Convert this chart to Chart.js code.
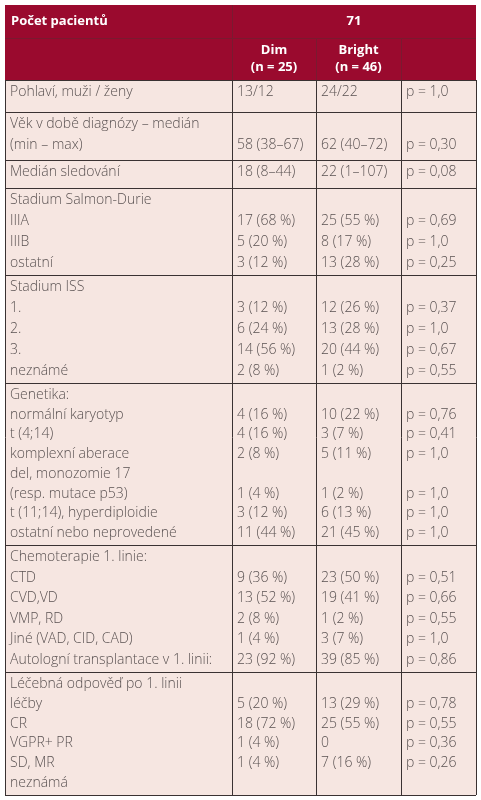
<!DOCTYPE html>
<html lang="cs">
<head>
  <meta charset="UTF-8" />
  <title>Počet pacientů</title>
  <script src="https://cdn.jsdelivr.net/npm/chart.js"></script>
  <style>
    body { margin: 0; background: #fff; }
    canvas { display: block; }
  </style>
</head>
<body>
  <canvas id="tabulka" width="481" height="800"></canvas>
  <script>
    // data z tabulky
    const headerTitle = 'Počet pacientů';
    const headerTotal = '71';
    const columnHeads = [['Dim', '(n = 25)'], ['Bright', '(n = 46)']];

    const categories = [
      ['Pohlaví, muži / ženy'],
      ['Věk v době diagnózy – medián', '(min – max)'],
      ['Medián sledování'],
      ['Stadium Salmon-Durie', 'IIIA', 'IIIB', 'ostatní'],
      ['Stadium ISS', '1.', '2.', '3.', 'neznámé'],
      ['Genetika:', 'normální karyotyp', 't (4;14)', 'komplexní aberace', 'del, monozomie 17', '(resp. mutace p53)', 't (11;14), hyperdiploidie', 'ostatní nebo neprovedené'],
      ['Chemoterapie 1. linie:', 'CTD', 'CVD,VD', 'VMP, RD', 'Jiné (VAD, CID, CAD)', 'Autologní transplantace v 1. linii:'],
      ['Léčebná odpověď po 1. linii', 'léčby', 'CR', 'VGPR+ PR', 'SD, MR', 'neznámá']
    ];
    const dimValues = [
      ['13/12'],
      ['', '58 (38–67)'],
      ['18 (8–44)'],
      ['', '17 (68 %)', '5 (20 %)', '3 (12 %)'],
      ['', '3 (12 %)', '6 (24 %)', '14 (56 %)', '2 (8 %)'],
      ['', '4 (16 %)', '4 (16 %)', '2 (8 %)', '', '1 (4 %)', '3 (12 %)', '11 (44 %)'],
      ['', '9 (36 %)', '13 (52 %)', '2 (8 %)', '1 (4 %)', '23 (92 %)'],
      ['', '5 (20 %)', '18 (72 %)', '1 (4 %)', '1 (4 %)', '']
    ];
    const brightValues = [
      ['24/22'],
      ['', '62 (40–72)'],
      ['22 (1–107)'],
      ['', '25 (55 %)', '8 (17 %)', '13 (28 %)'],
      ['', '12 (26 %)', '13 (28 %)', '20 (44 %)', '1 (2 %)'],
      ['', '10 (22 %)', '3 (7 %)', '5 (11 %)', '', '1 (2 %)', '6 (13 %)', '21 (45 %)'],
      ['', '23 (50 %)', '19 (41 %)', '1 (2 %)', '3 (7 %)', '39 (85 %)'],
      ['', '13 (29 %)', '25 (55 %)', '0', '7 (16 %)', '']
    ];
    const pValues = [
      ['p = 1,0'],
      ['', 'p = 0,30'],
      ['p = 0,08'],
      ['', 'p = 0,69', 'p = 1,0', 'p = 0,25'],
      ['', 'p = 0,37', 'p = 1,0', 'p = 0,67', 'p = 0,55'],
      ['', 'p = 0,76', 'p = 0,41', 'p = 1,0', '', 'p = 1,0', 'p = 1,0', 'p = 1,0'],
      ['', 'p = 0,51', 'p = 0,66', 'p = 0,55', 'p = 1,0', 'p = 0,86'],
      ['', 'p = 0,78', 'p = 0,55', 'p = 0,36', 'p = 0,26', '']
    ];

    // rozvržení (v jednotkách os)
    const colEdges = [5, 232, 316, 401, 476];
    const headEdges = [5, 38, 80];
    const rowEdges = [80, 112, 160, 188, 275, 383, 545, 672, 795];

    const red = '#9a0a2e';
    const cream = '#f6e6e1';
    const border = '#3a3232';
    const textCol = '#5a5252';

    const tablePlugin = {
      id: 'tablePlugin',
      afterDraw(chart) {
        const ctx = chart.ctx;
        const xs = chart.scales.x, ys = chart.scales.y;
        const X = v => xs.getPixelForValue(v);
        const Y = v => ys.getPixelForValue(v);
        ctx.save();
        // pozadí
        ctx.fillStyle = red;
        ctx.fillRect(X(colEdges[0]), Y(headEdges[0]), X(colEdges[4]) - X(colEdges[0]), Y(headEdges[2]) - Y(headEdges[0]));
        ctx.fillStyle = cream;
        ctx.fillRect(X(colEdges[0]), Y(rowEdges[0]), X(colEdges[4]) - X(colEdges[0]), Y(rowEdges[rowEdges.length - 1]) - Y(rowEdges[0]));

        // čáry
        ctx.lineWidth = 1;
        ctx.strokeStyle = '#7a1a30';
        ctx.beginPath();
        ctx.moveTo(X(colEdges[1]) + 0.5, Y(headEdges[0]));
        ctx.lineTo(X(colEdges[1]) + 0.5, Y(headEdges[2]));
        ctx.moveTo(X(colEdges[3]) + 0.5, Y(headEdges[1]));
        ctx.lineTo(X(colEdges[3]) + 0.5, Y(headEdges[2]));
        ctx.moveTo(X(colEdges[2]) + 0.5, Y(headEdges[1]));
        ctx.lineTo(X(colEdges[2]) + 0.5, Y(headEdges[2]));
        ctx.moveTo(X(colEdges[0]), Y(headEdges[1]) + 0.5);
        ctx.lineTo(X(colEdges[4]), Y(headEdges[1]) + 0.5);
        ctx.stroke();

        ctx.strokeStyle = border;
        ctx.beginPath();
        rowEdges.forEach(r => {
          ctx.moveTo(X(colEdges[0]), Y(r) + 0.5);
          ctx.lineTo(X(colEdges[4]), Y(r) + 0.5);
        });
        colEdges.forEach(c => {
          ctx.moveTo(X(c) + 0.5, Y(rowEdges[0]));
          ctx.lineTo(X(c) + 0.5, Y(rowEdges[rowEdges.length - 1]));
        });
        ctx.stroke();

        // záhlaví
        ctx.fillStyle = '#fff';
        ctx.font = 'bold 13px "Open Sans", sans-serif';
        ctx.textBaseline = 'middle';
        ctx.textAlign = 'left';
        const h1 = (headEdges[0] + headEdges[1]) / 2;
        ctx.fillText(headerTitle, X(colEdges[0] + 6), Y(h1));
        ctx.textAlign = 'center';
        ctx.fillText(headerTotal, X((colEdges[1] + colEdges[4]) / 2), Y(h1));
        columnHeads.forEach((lines, i) => {
          const cx = (colEdges[i + 1] + colEdges[i + 2]) / 2;
          ctx.fillText(lines[0], X(cx), Y(headEdges[1] + 12));
          ctx.fillText(lines[1], X(cx), Y(headEdges[1] + 29));
        });

        // tělo
        ctx.fillStyle = textCol;
        ctx.font = '300 14px "Open Sans", sans-serif';
        categories.forEach((lines, g) => {
          const top = rowEdges[g];
          const h = rowEdges[g + 1] - top;
          const step = lines.length > 1 ? Math.min(21, (h - 24) / (lines.length - 1)) : 0;
          lines.forEach((label, i) => {
            const y = Y(top + 12 + i * step);
            ctx.textAlign = 'left';
            ctx.fillText(label, X(colEdges[0] + 5), y);
            ctx.fillText(dimValues[g][i], X(colEdges[1] + 5), y);
            ctx.fillText(brightValues[g][i], X(colEdges[2] + 5), y);
            ctx.fillText(pValues[g][i], X(colEdges[3] + 5), y);
          });
        });
        ctx.restore();
      }
    };

    new Chart(document.getElementById('tabulka'), {
      type: 'scatter',
      data: { datasets: [{ data: [] }] },
      options: {
        responsive: false,
        animation: false,
        layout: { padding: 0 },
        plugins: { legend: { display: false }, tooltip: { enabled: false } },
        scales: {
          x: { type: 'linear', min: 0, max: 481, display: false },
          y: { type: 'linear', min: 0, max: 800, reverse: true, display: false }
        }
      },
      plugins: [tablePlugin]
    });
  </script>
</body>
</html>
